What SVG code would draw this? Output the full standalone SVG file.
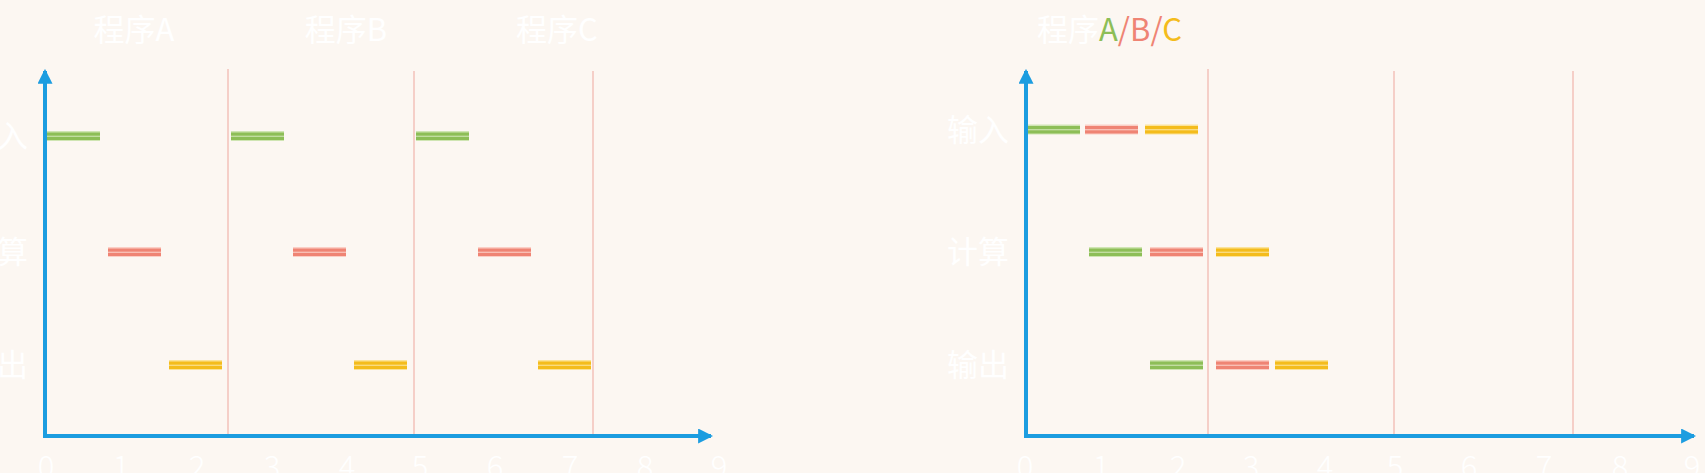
<svg xmlns="http://www.w3.org/2000/svg" width="1705" height="473" viewBox="0 0 1705 473">
<defs>
<style>
.bg{fill:#FCF7F2}
.t{font-family:"Noto Sans CJK SC","Noto Sans",sans-serif;fill:#FFFFFF;font-weight:400}
.title{font-size:31px}
.lab{font-size:31px;text-anchor:end}
.tick{font-size:31px;text-anchor:middle;font-weight:300}
.axis{stroke:#1C9DE0;stroke-width:4;fill:none}
.grid{stroke:#F5CFC8;stroke-width:2}
.gl{fill:#CFE5B3}.gd{fill:#8DBE57}
.rl{fill:#FBCFC6}.rd{fill:#EF8474}
.yl{fill:#FBE39A}.yd{fill:#F4BC1C}
</style>
<marker id="ah" viewBox="0 0 14 14" refX="12" refY="7" markerWidth="15" markerHeight="15" markerUnits="userSpaceOnUse" orient="auto">
<path d="M0,0 L14,7 L0,14 Z" fill="#1C9DE0"/>
</marker>
<g id="barG"><rect x="0" y="-5" width="53" height="10" class="gl"/><rect x="0" y="-3.5" width="53" height="3.2" class="gd"/><rect x="0" y="0.8" width="53" height="3.2" class="gd"/></g>
<g id="barR"><rect x="0" y="-5" width="53" height="10" class="rl"/><rect x="0" y="-3.5" width="53" height="3.2" class="rd"/><rect x="0" y="0.8" width="53" height="3.2" class="rd"/></g>
<g id="barY"><rect x="0" y="-5" width="53" height="10" class="yl"/><rect x="0" y="-3.5" width="53" height="3.2" class="yd"/><rect x="0" y="0.8" width="53" height="3.2" class="yd"/></g>
</defs>
<rect class="bg" x="0" y="0" width="1705" height="473"/>

<!-- Left chart -->
<g id="left-grid">
<line class="grid" x1="228" y1="69" x2="228" y2="436"/>
<line class="grid" x1="414" y1="71" x2="414" y2="436"/>
<line class="grid" x1="593" y1="71" x2="593" y2="436"/>
</g>
<g id="left-titles">
<text class="t title" x="134" y="41" text-anchor="middle">程序A</text>
<text class="t title" x="346" y="41" text-anchor="middle">程序B</text>
<text class="t title" x="557" y="41" text-anchor="middle">程序C</text>
</g>
<g id="left-labels">
<text class="t lab" x="28" y="147">输入</text>
<text class="t lab" x="28" y="263">计算</text>
<text class="t lab" x="28" y="376">输出</text>
</g>
<g id="left-bars">
<use href="#barG" x="47" y="136"/>
<use href="#barG" x="231" y="136"/>
<use href="#barG" x="416" y="136"/>
<use href="#barR" x="108" y="252"/>
<use href="#barR" x="293" y="252"/>
<use href="#barR" x="478" y="252"/>
<use href="#barY" x="169" y="365"/>
<use href="#barY" x="354" y="365"/>
<use href="#barY" x="538" y="365"/>
</g>
<g id="left-ticks">
<text class="t tick" x="46" y="478">0</text>
<text class="t tick" x="121" y="478">1</text>
<text class="t tick" x="197" y="478">2</text>
<text class="t tick" x="272" y="478">3</text>
<text class="t tick" x="347" y="478">4</text>
<text class="t tick" x="420" y="478">5</text>
<text class="t tick" x="495" y="478">6</text>
<text class="t tick" x="570" y="478">7</text>
<text class="t tick" x="645" y="478">8</text>
<text class="t tick" x="719" y="478">9</text>
</g>

<!-- Right chart -->
<g id="right-grid">
<line class="grid" x1="1208" y1="69" x2="1208" y2="436"/>
<line class="grid" x1="1394" y1="71" x2="1394" y2="436"/>
<line class="grid" x1="1573" y1="71" x2="1573" y2="436"/>
</g>
<g id="right-title">
<text class="t title" x="1037" y="41">程序<tspan fill="#8DBE57">A</tspan><tspan fill="#EF8474">/B/</tspan><tspan fill="#F4BC1C">C</tspan></text>
</g>
<g id="right-labels">
<text class="t lab" x="1009" y="141">输入</text>
<text class="t lab" x="1009" y="263">计算</text>
<text class="t lab" x="1009" y="376">输出</text>
</g>
<g id="right-bars">
<use href="#barG" x="1027" y="129.5"/>
<use href="#barR" x="1085" y="129.5"/>
<use href="#barY" x="1145" y="129.5"/>
<use href="#barG" x="1089" y="252"/>
<use href="#barR" x="1150" y="252"/>
<use href="#barY" x="1216" y="252"/>
<use href="#barG" x="1150" y="365"/>
<use href="#barR" x="1216" y="365"/>
<use href="#barY" x="1275" y="365"/>
</g>
<g id="right-ticks">
<text class="t tick" x="1025" y="478">0</text>
<text class="t tick" x="1101" y="478">1</text>
<text class="t tick" x="1178" y="478">2</text>
<text class="t tick" x="1251" y="478">3</text>
<text class="t tick" x="1325" y="478">4</text>
<text class="t tick" x="1395" y="478">5</text>
<text class="t tick" x="1469" y="478">6</text>
<text class="t tick" x="1544" y="478">7</text>
<text class="t tick" x="1620" y="478">8</text>
<text class="t tick" x="1692" y="478">9</text>
</g>

<g id="connectors">
<path class="axis" d="M45,436 L45,71" marker-end="url(#ah)"/>
<path class="axis" d="M43,436 L711,436" marker-end="url(#ah)"/>
<path class="axis" d="M1026,436 L1026,71" marker-end="url(#ah)"/>
<path class="axis" d="M1024,436 L1694,436" marker-end="url(#ah)"/>
</g>
</svg>
